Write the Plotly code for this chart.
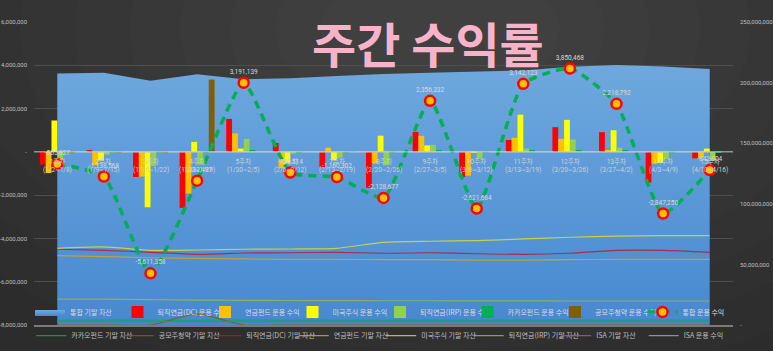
import plotly.graph_objects as go

# ---------------- data ----------------
weeks = ["1주차", "2주차", "3주차", "4주차", "5주차", "6주차", "7주차", "8주차",
         "9주차", "10주차", "11주차", "12주차", "13주차", "14주차", "15주차"]
periods = ["(1/2~1/8)", "(1/9~1/15)", "(1/16~1/22)", "(1/23~1/29)", "(1/30~2/5)",
           "(2/6~2/12)", "(2/13~2/19)", "(2/20~2/26)", "(2/27~3/5)", "(3/6~3/12)",
           "(3/13~3/19)", "(3/20~3/26)", "(3/27~4/2)", "(4/3~4/9)", "(4/10~4/16)"]

# weekly profits (left axis, KRW)
dc_profit = [-590000, 50000, -1160000, -2590000, 1520000, 410000, -710000, -1660000,
             920000, -1160000, 550000, 1140000, 910000, -1420000, -300000]
fund_profit = [-980000, -620000, -1140000, -1930000, 850000, -740000, 200000, -540000,
               740000, -1100000, 650000, 600000, 60000, -550000, -270000]
us_profit = [1450000, -400000, -2560000, 460000, 150000, -510000, -390000, 750000,
             300000, -20000, 1720000, 1480000, 1000000, -510000, 150000]
irp_profit = [-350000, -130000, -660000, -590000, 600000, -80000, -280000, -620000,
              330000, -310000, 150000, 570000, 200000, -320000, -400000]
kakao_profit = [-40000, -20000, -50000, -20000, 60000, -20000, -20000, -50000,
                60000, -30000, 50000, 60000, 50000, -50000, -20000]
ipo_profit = [-40000, -20000, -20000, 3340000, 0, 0, 20000, 0, 0, 0, 0, 0, 0, 0, 0]
total_profit = [-555827, -1138568, -5611358, -1332487, 3191139, -952514, -1160302, -2128677,
                2356332, -2621684, 3142123, 3850468, 2218792, -2847250, -842304]
isa_profit = [0, 0, 0, 0, 0, 0, 0, 0, 0, 0, 0, 0, 0, 0, 0]

# ending assets (right axis, KRW)
total_assets = [207.6e6, 208.1e6, 201.5e6, 206.8e6, 202.7e6, 203.5e6, 205.4e6, 207.1e6,
                208.1e6, 209.0e6, 210.0e6, 213.1e6, 214.5e6, 213.3e6, 211.2e6]
us_assets = [63.3e6, 64.4e6, 61.6e6, 61.9e6, 62.5e6, 62.7e6, 63.3e6, 68.2e6,
             69.1e6, 69.6e6, 71.0e6, 72.4e6, 73.4e6, 73.7e6, 73.7e6]
dc_assets = [62.5e6, 61.6e6, 60.0e6, 58.3e6, 59.4e6, 59.6e6, 60.0e6, 59.2e6,
             59.6e6, 58.8e6, 58.3e6, 59.2e6, 61.6e6, 61.6e6, 60.0e6]
fund_assets = [57.2e6, 56.4e6, 55.5e6, 55.0e6, 54.5e6, 54.2e6, 54.2e6, 53.9e6,
               53.9e6, 53.6e6, 53.6e6, 53.9e6, 54.2e6, 54.2e6, 54.2e6]
irp_assets = [21.4e6, 21.4e6, 21.0e6, 20.6e6, 20.4e6, 20.2e6, 20.1e6, 20.0e6,
              20.0e6, 19.9e6, 19.9e6, 19.8e6, 19.8e6, 19.8e6, 19.8e6]
kakao_assets = [4.0e6, 4.0e6, 3.9e6, 3.9e6, 4.0e6, 4.0e6, 4.0e6, 3.9e6,
                4.0e6, 3.9e6, 4.0e6, 4.0e6, 4.1e6, 4.0e6, 4.0e6]
ipo_assets = [0, 0, 0, 9.1e6, 0, 0, 0, 0, 0, 0, 0, 0, 0, 0, 0]
isa_assets = [2.8e6, 2.8e6, 2.8e6, 2.8e6, 2.8e6, 2.8e6, 2.8e6, 2.8e6,
              2.8e6, 2.8e6, 2.8e6, 2.8e6, 2.8e6, 2.8e6, 2.8e6]

left_ticks = [-8e6, -6e6, -4e6, -2e6, 0, 2e6, 4e6, 6e6]
left_tick_text = ["-8,000,000", "-6,000,000", "-4,000,000", "-2,000,000", "-",
                  "2,000,000", "4,000,000", "6,000,000"]
right_ticks = [0, 50e6, 100e6, 150e6, 200e6, 250e6]
right_tick_text = ["-", "50,000,000", "100,000,000", "150,000,000", "200,000,000", "250,000,000"]

title_text = "주간 수익률"

# ---------------- figure ----------------
NUMF = "Roboto, Noto Sans CJK KR, sans-serif"
KFONT = "Noto Sans CJK KR, Roboto, sans-serif"
W, H = 773, 351
ML, MR, MT, MB = 34, 40, 22, 26
PW, PH = W - ML - MR, H - MT - MB

fig = go.Figure()

# soft radial glow of the dark background (decoration only)
glow_steps = [(600, 360), (540, 320), (480, 285), (420, 250), (365, 215),
              (310, 182), (260, 150), (210, 120), (165, 92), (120, 66)]
for rx, ry in glow_steps:
    cx, cy = 440, 30
    fig.add_shape(type="circle", xref="paper", yref="paper", layer="below",
                  x0=(cx - rx - ML) / PW, x1=(cx + rx - ML) / PW,
                  y0=(H - MB - (cy + ry)) / PH, y1=(H - MB - (cy - ry)) / PH,
                  fillcolor="rgba(255,255,255,0.011)", line=dict(width=0))

# base (right) axis: area + asset lines
fig.add_trace(go.Scatter(
    x=weeks, y=total_assets, name="통합 기말 자산", yaxis="y", mode="lines",
    line=dict(width=0, color="#5B9BD5"), fill="tozeroy",
    fillgradient=dict(type="vertical", colorscale=[[0, "#4788d0"], [1, "#6ea8de"]],
                      start=0, stop=215e6),
    legend="legend"))

asset_lines = [
    ("카카오펀드 기말 자산", kakao_assets, "rgba(0,176,80,0.85)"),
    ("공모주청약 기말 자산", ipo_assets, "rgba(127,96,0,0.85)"),
    ("퇴직연금(DC) 기말 자산", dc_assets, "rgba(192,20,40,0.8)"),
    ("연금펀드 기말 자산", fund_assets, "rgba(210,165,30,0.85)"),
    ("미국주식 기말 자산", us_assets, "rgba(225,225,40,0.8)"),
    ("퇴직연금(IRP) 기말 자산", irp_assets, "rgba(150,185,70,0.85)"),
    ("ISA 기말 자산", isa_assets, "rgba(142,90,168,0.85)"),
]
for name, vals, col in asset_lines:
    fig.add_trace(go.Scatter(
        x=weeks, y=vals, name=name, yaxis="y", mode="lines",
        line=dict(width=1.2, color=col, shape="spline", smoothing=0.6),
        legend="legend2"))

fig.add_trace(go.Scatter(
    x=weeks, y=isa_profit, name="ISA 운용 수익", yaxis="y2", mode="lines",
    line=dict(width=1.2, color="rgba(170,170,170,0.8)"), legend="legend2"))

bars = [
    ("퇴직연금(DC) 운용 수익", dc_profit, "#FF0000"),
    ("연금펀드 운용 수익", fund_profit, "#FFC000"),
    ("미국주식 운용 수익", us_profit, "#FFFF00"),
    ("퇴직연금(IRP) 운용 수익", irp_profit, "#92D050"),
    ("카카오펀드 운용 수익", kakao_profit, "#00B050"),
    ("공모주청약 운용 수익", ipo_profit, "#7F6000"),
]
for name, vals, col in bars:
    fig.add_trace(go.Bar(x=weeks, y=vals, name=name, yaxis="y2",
                         marker=dict(color=col, line=dict(width=0)),
                         legend="legend"))

fig.add_trace(go.Scatter(
    x=weeks, y=total_profit, name="통합 운용 수익", yaxis="y2",
    mode="lines+markers+text",
    line=dict(color="#00B050", width=3.5, dash="8px,6px", shape="spline", smoothing=0.5),
    marker=dict(symbol="circle", size=10, color="#FFC000", line=dict(color="#FF0000", width=2.5)),
    text=[f"{v:,}" for v in total_profit], textposition="top center",
    textfont=dict(family=NUMF, size=6.5, color="#d9d9d9"),
    legend="legend"))

# category labels sitting on the zero line
for w, p in zip(weeks, periods):
    fig.add_annotation(x=w, y=0, xref="x", yref="y2", text=f"{w}<br>{p}",
                       showarrow=False, yanchor="top", yshift=-3,
                       font=dict(family=NUMF, size=6.5, color="#d0d0d0"))

fig.add_annotation(text=title_text, xref="paper", yref="paper", x=0.564, y=0.934,
                   xanchor="center", yanchor="middle", showarrow=False,
                   font=dict(family="Noto Sans CJK KR", size=48, color="#F9B3C9", weight=700))

fig.add_shape(type="line", xref="paper", x0=0, x1=1, yref="y2", y0=0, y1=0,
              line=dict(color="rgba(225,225,225,0.75)", width=1), layer="above")

legend_common = dict(orientation="h", yanchor="middle",
                     entrywidth=42.5, entrywidthmode="pixels", itemwidth=30,
                     bgcolor="rgba(0,0,0,0)", tracegroupgap=0)
fig.update_layout(
    width=W, height=H,
    margin=dict(l=ML, r=MR, t=MT, b=MB, autoexpand=False),
    paper_bgcolor="#2c2c2c", plot_bgcolor="rgba(0,0,0,0)",
    barmode="group", bargap=0.25, bargroupgap=0,
    showlegend=True,
    legend=dict(**legend_common, x=0.495, xanchor="center", y=0.043,
                font=dict(family=KFONT, size=7, color="#dcdcdc")),
    legend2=dict(**legend_common, x=-0.004, xanchor="left", y=-0.035,
                 font=dict(family=KFONT, size=7, color="#bfbfbf")),
    xaxis=dict(type="category", range=[-0.5, 14.5], showgrid=False, showticklabels=False,
               zeroline=False, showline=True, linecolor="#7a7a7a", linewidth=2, anchor="y"),
    yaxis=dict(side="right", range=[0, 250e6], showgrid=False, zeroline=False,
               tickvals=right_ticks, ticktext=right_tick_text, ticklabelstandoff=6,
               tickfont=dict(family=NUMF, size=6, color="#bfbfbf")),
    yaxis2=dict(side="left", overlaying="y", range=[-8e6, 6e6], showgrid=True,
                gridcolor="#4e4e4e", gridwidth=1, zeroline=False,
                tickvals=left_ticks, ticktext=left_tick_text, ticklabelstandoff=6,
                tickfont=dict(family=NUMF, size=6, color="#bfbfbf")),
)

fig.write_html("out.html")
